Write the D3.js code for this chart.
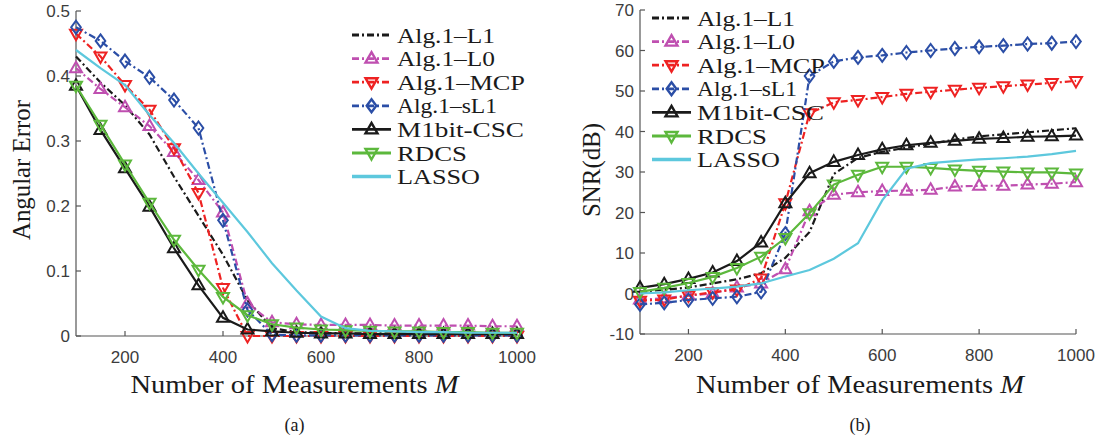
<!DOCTYPE html>
<html><head><meta charset="utf-8">
<script src="https://cdn.jsdelivr.net/npm/d3@7"></script>
<style>
body{margin:0;background:#fff}svg{display:block}
.serif{font-family:"Liberation Serif","DejaVu Serif","Times New Roman",serif}
.sans{font-family:"Liberation Sans",Arial,"DejaVu Sans",sans-serif}
</style>
</head><body>
<svg id="c" width="1099" height="437"></svg>
<script>
const M = [100,150,200,250,300,350,400,450,500,550,600,650,700,750,800,850,900,950,1000];
const seriesNames = ["Alg.1–L1","Alg.1–L0","Alg.1–MCP","Alg.1–sL1","M1bit-CSC","RDCS","LASSO"];
// Angular error (a)
const errL1    = [0.43,0.39,0.355,0.31,0.245,0.185,0.125,0.055,0.012,0.006,0.005,0.004,0.004,0.004,0.004,0.004,0.004,0.004,0.004];
const errL0    = [0.412,0.38,0.352,0.323,0.283,0.24,0.19,0.05,0.021,0.018,0.017,0.017,0.017,0.016,0.016,0.016,0.016,0.015,0.015];
const errMCP   = [0.465,0.43,0.386,0.348,0.289,0.22,0.074,0.0,0.0,0.0,0.0,0.0,0.0,0.0,0.0,0.0,0.0,0.0,0.0];
const errSL1   = [0.475,0.454,0.423,0.398,0.363,0.32,0.178,0.04,0.002,0.001,0.001,0.001,0.001,0.001,0.001,0.001,0.001,0.001,0.001];
const errCSC   = [0.385,0.317,0.258,0.199,0.135,0.078,0.028,0.01,0.007,0.005,0.004,0.004,0.003,0.003,0.003,0.003,0.003,0.003,0.003];
const errRDCS  = [0.385,0.325,0.264,0.205,0.148,0.102,0.06,0.032,0.018,0.013,0.01,0.009,0.008,0.007,0.007,0.006,0.006,0.005,0.005];
const errLASSO = [0.44,0.412,0.386,0.34,0.297,0.25,0.205,0.16,0.112,0.07,0.03,0.012,0.008,0.007,0.006,0.006,0.005,0.005,0.005];
// SNR (b)
const snrL1    = [0.5,0.9,1.5,2.5,3.5,5,8.8,15.2,29.5,33.5,35,36,37,38,38.8,39.3,39.8,40.3,40.8];
const snrL0    = [-1.5,-1.2,-0.5,0,1.5,2.5,6,20.3,24.4,25,25.3,25.4,25.6,26.4,26.6,26.6,26.9,27.1,27.5];
const snrMCP   = [-1.8,-1.5,-0.5,0.3,1,3.7,22.3,44.5,47.2,47.8,48.5,49.3,49.8,50.3,50.8,51.2,51.6,52,52.5];
const snrSL1   = [-2.7,-2.3,-1.6,-1.2,-0.8,0.4,14.8,53.7,57.3,58.3,58.8,59.5,60,60.5,60.9,61.2,61.6,61.8,62.2];
const snrCSC   = [1.4,2.3,3.6,5.2,8,12.6,22.3,29.7,32.5,34.2,35.6,36.6,37.2,37.7,38.2,38.4,38.7,38.8,39];
const snrRDCS  = [0.4,1.4,2.6,4.1,6.3,9.1,13.7,19.8,26.9,29.3,31.3,31.3,31,30.6,30.3,30.1,29.9,29.9,29.6];
const snrLASSO = [0,0.3,0.8,1.2,1.7,2.5,4.2,5.8,8.6,12.4,23,30.8,32.2,32.7,33.1,33.4,33.8,34.4,35.2];
const xTicks = [200,400,600,800,1000];
const errTicks = [0,0.1,0.2,0.3,0.4,0.5];
const snrTicks = [-10,0,10,20,30,40,50,60,70];
const legendWidths = [98,98,128,100,127,70,83];

const styles = [
  {color:"#1a1a1a", dash:"7,3,2,3", marker:null},
  {color:"#bf4fb0", dash:"7,3,2,3", marker:"up"},
  {color:"#ee2222", dash:"7,3,2,3", marker:"down"},
  {color:"#2b4ea6", dash:"7,3,2,3", marker:"diamond"},
  {color:"#1a1a1a", dash:null, marker:"up"},
  {color:"#5cb83c", dash:null, marker:"down"},
  {color:"#5dc8dd", dash:null, marker:null}
];
const errData = [errL1,errL0,errMCP,errSL1,errCSC,errRDCS,errLASSO];
const snrData = [snrL1,snrL0,snrMCP,snrSL1,snrCSC,snrRDCS,snrLASSO];

const svg = d3.select("#c");
const axisColor = "#555";

function markerPath(type){
  if(type==="up") return "M0,-6.5L6,4L-6,4Z";
  if(type==="down") return "M0,6.5L6,-4L-6,-4Z";
  if(type==="diamond") return "M0,-6.5L4.8,0L0,6.5L-4.8,0Z";
  return null;
}

function panel(o){
  const x = d3.scaleLinear().domain([100,1000]).range([o.x0,o.x1]);
  const y = d3.scaleLinear().domain(o.yDomain).range([o.y0,o.y1]);
  const g = svg.append("g");
  g.append("line").attr("x1",o.x0).attr("x2",o.x1).attr("y1",o.y0).attr("y2",o.y0).attr("stroke",axisColor).attr("stroke-width",1.2);
  g.append("line").attr("x1",o.x0).attr("x2",o.x0).attr("y1",o.y0).attr("y2",o.y1).attr("stroke",axisColor).attr("stroke-width",1.2);
  xTicks.forEach(t=>{
    g.append("line").attr("x1",x(t)).attr("x2",x(t)).attr("y1",o.y0).attr("y2",o.y0-5).attr("stroke",axisColor).attr("stroke-width",1.2);
    g.append("text").attr("class","sans").attr("x",x(t)).attr("y",o.y0+27).attr("text-anchor","middle")
      .attr("font-size",17).attr("fill","#3c3c3c").text(t);
  });
  o.yTicks.forEach(t=>{
    g.append("line").attr("x1",o.x0).attr("x2",o.x0+5).attr("y1",y(t)).attr("y2",y(t)).attr("stroke",axisColor).attr("stroke-width",1.2);
    g.append("text").attr("class","sans").attr("x",o.x0-6).attr("y",y(t)+6).attr("text-anchor","end")
      .attr("font-size",17).attr("fill","#3c3c3c").text(t);
  });
  const line = d3.line().x((d,i)=>x(M[i])).y(d=>y(d));
  o.data.forEach((arr,k)=>{
    const s = styles[k];
    g.append("path").attr("d",line(arr)).attr("fill","none").attr("stroke",s.color)
      .attr("stroke-width",2.2).attr("stroke-dasharray",s.dash);
    if(s.marker){
      g.selectAll(null).data(arr).enter().append("path")
        .attr("d",markerPath(s.marker))
        .attr("transform",(d,i)=>`translate(${x(M[i])},${y(d)})`)
        .attr("fill","none").attr("stroke",s.color).attr("stroke-width",2);
    }
  });
  g.append("text").attr("class","serif").attr("transform",`translate(${o.ylx},${o.yly}) rotate(-90)`)
    .attr("text-anchor","middle").attr("font-size",25).attr("fill","#1a1a1a")
    .attr("textLength",o.ylen).attr("lengthAdjust","spacingAndGlyphs").text(o.ylabel);
  const cx = (o.x0+o.x1)/2 + o.xlOff;
  const xl = g.append("text").attr("class","serif").attr("x",cx).attr("y",393).attr("text-anchor","middle")
    .attr("font-size",25).attr("fill","#1a1a1a")
    .attr("textLength",328).attr("lengthAdjust","spacingAndGlyphs");
  xl.append("tspan").text("Number of Measurements ");
  xl.append("tspan").attr("font-style","italic").text("M");
  g.append("text").attr("class","serif").attr("x",cx).attr("y",431).attr("text-anchor","middle")
    .attr("font-size",18).attr("fill","#1a1a1a").text(o.sub);
  seriesNames.forEach((n,k)=>{
    const s = styles[k];
    const yy = o.legY + k*23.6;
    g.append("line").attr("x1",o.legX).attr("x2",o.legX+39).attr("y1",yy).attr("y2",yy)
      .attr("stroke",s.color).attr("stroke-width",k===6?3.5:2.8).attr("stroke-dasharray",s.dash);
    if(s.marker){
      g.append("path").attr("d",markerPath(s.marker)).attr("transform",`translate(${o.legX+19.5},${yy})`)
        .attr("fill","none").attr("stroke",s.color).attr("stroke-width",2.4);
    }
    g.append("text").attr("class","serif").attr("x",o.legX+45).attr("y",yy+7.5)
      .attr("font-size",21).attr("fill","#1a1a1a")
      .attr("textLength",legendWidths[k]).attr("lengthAdjust","spacingAndGlyphs").text(n);
  });
}

panel({x0:76,x1:517,y0:336,y1:11,yDomain:[0,0.5],yTicks:errTicks,data:errData,
  ylabel:"Angular Error",ylen:140,ylx:30,yly:170,sub:"(a)",xlOff:-2,legX:352,legY:35});
panel({x0:640,x1:1076,y0:334,y1:10,yDomain:[-10,70],yTicks:snrTicks,data:snrData,
  ylabel:"SNR(dB)",ylen:94,ylx:600,yly:170,sub:"(b)",xlOff:2,legX:652,legY:18});
</script>
</body></html>
